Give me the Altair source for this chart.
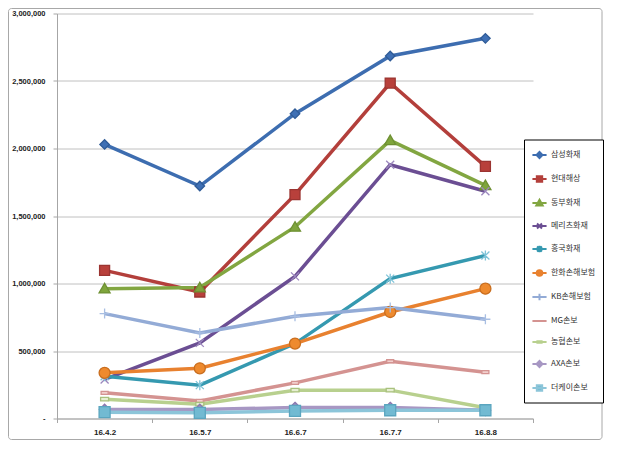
import altair as alt
import pandas as pd

dates = ["16.4.2", "16.5.7", "16.6.7", "16.7.7", "16.8.8"]
names = ["삼성화재", "현대해상", "동부화재", "메리츠화재", "흥국화재", "한화손해보험",
         "KB손해보험", "MG손보", "농협손보", "AXA손보", "더케이손보"]

samsung = [2030000, 1722000, 2258000, 2685000, 2816000]
hyundai = [1097000, 937000, 1658000, 2485000, 1868000]
dongbu = [962000, 970000, 1419000, 2060000, 1727000]
meritz = [289000, 560000, 1053000, 1880000, 1683000]
heungkuk = [313000, 247000, 555000, 1036000, 1207000]
hanwha = [338000, 372000, 555000, 789000, 962000]
kb = [777000, 634000, 757000, 822000, 735000]
mg = [190000, 130000, 264000, 424000, 343000]
nonghyup = [143000, 106000, 210000, 210000, 80000]
axa = [67000, 67000, 81000, 81000, 61000]
thek = [47000, 42000, 56000, 61000, 61000]

all_values = [samsung, hyundai, dongbu, meritz, heungkuk, hanwha, kb, mg, nonghyup, axa, thek]

rows = []
for name, vals in zip(names, all_values):
    for d, v in zip(dates, vals):
        rows.append({"series": name, "date": d, "value": v})
df = pd.DataFrame(rows)

line_colors = ["#3D6DB0", "#B33F3B", "#82A641", "#6B4E93", "#3599B0", "#E8812F",
               "#93ABD6", "#D49391", "#B8D08E", "#A797C3", "#8CC5D9"]
mark_fill = ["#3F70B5", "#B8403B", "#7FA53C", "#9C88BE", "#7FC3D8", "#EE8A2E",
             "#A9BFE3", "#F2CFCD", "#E6EFD2", "#9F8EC0", "#72BAD2"]
mark_stroke = ["#2F5B97", "#9B3431", "#6E9033", "#9C88BE", "#7FC3D8", "#C96E1F",
               "#A9BFE3", "#D49391", "#A9C17E", "#8A78AE", "#5AA5BF"]

circ = "M-1.1,0A1.1,1.1 0 1,0 1.1,0A1.1,1.1 0 1,0 -1.1,0Z"
mark_shapes = [
    "M0,-0.95L0.95,0L0,0.95L-0.95,0Z",
    "M-1,-1L1,-1L1,1L-1,1Z",
    "M0,-1.05L1.1,0.85L-1.1,0.85Z",
    "M-0.8,-0.8L0.8,0.8M0.8,-0.8L-0.8,0.8",
    "M-0.8,-0.8L0.8,0.8M0.8,-0.8L-0.8,0.8M0,-1L0,1",
    circ,
    "M-1,0L1,0M0,-1L0,1",
    "M-0.7,-0.3L0.7,-0.3L0.7,0.3L-0.7,0.3Z",
    "M-0.8,-0.35L0.8,-0.35L0.8,0.35L-0.8,0.35Z",
    "M0,-1.05L1.05,0L0,1.05L-1.05,0Z",
    "M-1.1,-1.1L1.1,-1.1L1.1,1.1L-1.1,1.1Z",
]
ln = "M-1,0L1,0"
legend_shapes = [
    ln + "M0,-0.42L0.42,0L0,0.42L-0.42,0Z",
    ln + "M-0.38,-0.38L0.38,-0.38L0.38,0.38L-0.38,0.38Z",
    ln + "M0,-0.45L0.45,0.35L-0.45,0.35Z",
    ln + "M-0.35,-0.35L0.35,0.35M0.35,-0.35L-0.35,0.35",
    ln + "M-0.35,-0.35L0.35,0.35M0.35,-0.35L-0.35,0.35M0,-0.45L0,0.45",
    ln + "M-0.4,0A0.4,0.4 0 1,0 0.4,0A0.4,0.4 0 1,0 -0.4,0Z",
    ln + "M0,-0.45L0,0.45",
    ln,
    ln + "M-0.3,-0.12L0.3,-0.12L0.3,0.12L-0.3,0.12Z",
    ln + "M0,-0.42L0.42,0L0,0.42L-0.42,0Z",
    ln + "M-0.38,-0.38L0.38,-0.38L0.38,0.38L-0.38,0.38Z",
]

y_ticks = [0, 500000, 1000000, 1500000, 2000000, 2500000, 3000000]

base = alt.Chart(df)

x_enc = alt.X(
    "date:N", sort=dates, bandPosition=0.5,
    scale=alt.Scale(type="band", domain=dates, paddingInner=0, paddingOuter=0),
    axis=alt.Axis(title=None, labelAngle=0, tickBand="extent", grid=False,
                  domainColor="#a6a6a6", tickColor="#a6a6a6", tickSize=4,
                  labelPadding=6, labelFont="Liberation Sans", labelFontSize=8,
                  labelFontWeight="bold", labelColor="#222222"),
)
y_enc = alt.Y(
    "value:Q",
    scale=alt.Scale(domain=[0, 3000000], nice=False, zero=True),
    axis=alt.Axis(title=None, values=y_ticks, grid=True, gridColor="#c0c0c0",
                  domainColor="#a6a6a6", tickColor="#a6a6a6", tickSize=4,
                  labelPadding=8, labelFont="Liberation Sans", labelFontSize=7.5,
                  labelFontWeight="bold", labelColor="#222222",
                  labelExpr="datum.value == 0 ? '-' : format(datum.value, ',')"),
)

frame = alt.Chart(alt.Data(values=[{"a": 1}])).mark_rect(
    fill="transparent", stroke="#a8a8a8", strokeWidth=1, cornerRadius=3
).encode(
    x=alt.value(-48.5), x2=alt.value(545), y=alt.value(-5), y2=alt.value(426)
)

lines = base.mark_line(strokeWidth=3.5).encode(
    x=x_enc, y=y_enc,
    stroke=alt.Stroke("series:N", scale=alt.Scale(domain=names, range=line_colors), legend=None),
)

points = base.mark_point(filled=True, size=100, strokeWidth=1.3, opacity=1).encode(
    x=x_enc, y=y_enc,
    fill=alt.Fill("series:N", scale=alt.Scale(domain=names, range=mark_fill), legend=None),
    stroke=alt.Stroke("series:N", scale=alt.Scale(domain=names, range=mark_stroke), legend=None),
    shape=alt.Shape("series:N", scale=alt.Scale(domain=names, range=mark_shapes), legend=None),
)

leg = alt.Legend(
    title=None, orient="none", legendX=467, legendY=126,
    symbolSize=200, symbolStrokeWidth=2, symbolOpacity=1,
    labelFont="Noto Sans CJK KR", labelFontSize=8, labelColor="#333333",
    labelOffset=3, rowPadding=8, padding=7,
    strokeColor="#000000", fillColor="#ffffff",
)

legend_layer = base.mark_point(filled=True, size=100, opacity=0).encode(
    x=x_enc, y=y_enc,
    fill=alt.Fill("series:N", scale=alt.Scale(domain=names, range=mark_fill), legend=leg),
    stroke=alt.Stroke("series:N", scale=alt.Scale(domain=names, range=line_colors), legend=leg),
    shape=alt.Shape("series:N", scale=alt.Scale(domain=names, range=legend_shapes), legend=leg),
)

chart = alt.layer(frame, lines, points, legend_layer).resolve_scale(
    fill="independent", stroke="independent", shape="independent"
).resolve_legend(
    fill="independent", stroke="independent", shape="independent"
).properties(
    width=476, height=405, autosize="none",
    padding={"left": 49, "top": 5.5, "right": 77, "bottom": 21.5},
    background="#ffffff",
).configure_view(strokeWidth=0)

chart.save("out.html", embed_options={"renderer": "svg", "actions": False})
